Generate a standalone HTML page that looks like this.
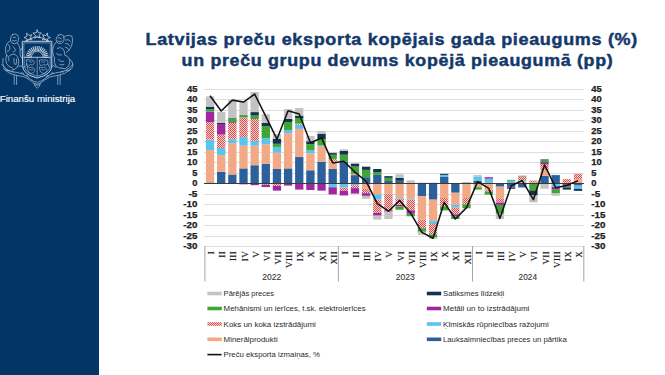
<!DOCTYPE html>
<html><head><meta charset="utf-8">
<style>
html,body{margin:0;padding:0;background:#fff;}
body{width:665px;height:375px;overflow:hidden;position:relative;font-family:"Liberation Sans",sans-serif;}
#side{position:absolute;left:0;top:0;width:99px;height:375px;background:#033566;}
#fm{position:absolute;left:0px;top:93px;color:#fff;font-size:9.2px;white-space:nowrap;letter-spacing:0.05px;}
.t{position:absolute;color:#0f3b6e;font-weight:bold;font-size:16px;white-space:nowrap;line-height:1;}
svg text{font-family:"Liberation Sans",sans-serif;}
.ax{font-size:8.4px;font-weight:bold;fill:#222;stroke:#222;stroke-width:0.25px;}
.mo{font-family:"Liberation Serif",serif !important;font-size:9px;fill:#1a1a1a;stroke:#1a1a1a;stroke-width:0.12px;letter-spacing:0.35px;}
.yr{font-size:8.8px;fill:#333;stroke:#333;stroke-width:0.1px;}
.lg{font-size:7.6px;fill:#2a2a2a;}
.tt{font-size:15.8px;font-weight:bold;fill:#14396b;stroke:#14396b;stroke-width:0.45px;letter-spacing:0.6px;}
.fm{font-size:9.6px;fill:#fff;stroke:#fff;stroke-width:0.15px;}
</style></head><body>
<div id="side">
<svg width="99" height="375" style="position:absolute;left:0;top:0"><g opacity="0.88"><g fill="none" stroke="#dfe7f1" stroke-width="0.8" stroke-linejoin="round" stroke-linecap="round">
<path d="M26.90,33.27 L28.95,35.48 L31.87,34.69 L30.40,37.33 L32.05,39.86 L29.08,39.28 L27.19,41.63 L26.82,38.63 L24.00,37.55 L26.74,36.28 Z"/>
<path d="M37.20,29.90 L38.38,32.78 L41.48,33.01 L39.10,35.02 L39.85,38.04 L37.20,36.40 L34.55,38.04 L35.30,35.02 L32.92,33.01 L36.02,32.78 Z"/>
<path d="M47.50,33.27 L47.66,36.28 L50.40,37.55 L47.58,38.63 L47.21,41.63 L45.32,39.28 L42.35,39.86 L44.00,37.33 L42.53,34.69 L45.45,35.48 Z"/>
<path d="M25.5,41 Q37.2,33 49,41"/>
<path d="M22.6,41.3 L51.8,41.3 L51.8,66 Q51.6,74.5 37.2,78 Q22.8,74.5 22.6,66 Z" stroke-width="1"/>
<path d="M24.2,42.9 L50.2,42.9 L50.2,65.8 Q50,73 37.2,76.3 Q24.4,73 24.2,65.8 Z" stroke-width="0.55"/>
<line x1="24.2" y1="57.3" x2="50.2" y2="57.3" stroke-width="0.9"/>
<path d="M31.3,57.3 A5.9,5.9 0 0 1 43.1,57.3" stroke-width="0.8"/>
<path d="M30.60,57.30 L25.80,57.30 M30.73,56.01 L26.02,55.08 M31.10,54.77 L26.67,52.94 M31.71,53.63 L27.72,50.97 M32.53,52.63 L29.14,49.24 M33.53,51.81 L30.87,47.82 M34.67,51.20 L32.84,46.77 M35.91,50.83 L34.98,46.12 M37.20,50.70 L37.20,45.90 M38.49,50.83 L39.42,46.12 M39.73,51.20 L41.56,46.77 M40.87,51.81 L43.53,47.82 M41.87,52.63 L45.26,49.24 M42.69,53.63 L46.68,50.97 M43.30,54.77 L47.73,52.94 M43.67,56.01 L48.38,55.08 M43.80,57.30 L48.60,57.30" stroke-width="1.05" stroke-linecap="butt"/>
</g>
<g fill="none" stroke="#dfe7f1" stroke-width="0.6" stroke-linejoin="round" stroke-linecap="round" opacity="0.9">
<path d="M26.5,60 Q28.5,58.8 30,60.2 Q31.8,59 33.5,60.5 Q35,62 34,64 Q32.5,65.5 30.5,64.5 Q28.5,66.5 27,65 Q25.8,62.5 26.5,60 Z"/>
<path d="M27.5,66.5 Q29.5,68.5 32,67 Q34.5,67.8 35,70.5 Q34,73.5 31,73.5 Q28.2,72.5 27.8,70 Z"/>
<path d="M29,61.5 Q31,63 32.5,61.8 M29.5,69.5 Q31.5,71 33,69.5 M26.8,63.8 L25.5,67"/>
<path d="M39.5,60.5 Q41.5,58.8 43.5,60.2 Q45.5,59 47.5,60.5 Q48.5,62.5 47.5,64.5 Q45.5,65.5 43.5,64.5 Q41.5,66.5 40,65 Q39,62.5 39.5,60.5 Z"/>
<path d="M39.5,67 Q42,68.5 44.5,67 Q47,67.8 47,70.5 Q46,73.5 43,73.5 Q40.2,72.5 39.8,70 Z"/>
<path d="M41.5,61.8 Q43.5,63 45,61.8 M41.5,69.5 Q43.5,71 45,69.5 M48,63.8 L49,67"/>
<line x1="37.2" y1="57.6" x2="37.2" y2="76"/>
</g>
<g transform="translate(0,34.5) scale(1,1.2) translate(0,-39)">
<g fill="none" stroke="#dfe7f1" stroke-width="0.7" stroke-linejoin="round" stroke-linecap="round" opacity="0.92">
<path d="M12.5,39 Q15.5,37.8 17.5,39.5 Q19.3,41.5 18.5,44 Q17.5,46.5 14.5,46.8 Q11.5,46.5 10.5,44 Q10,41 12.5,39 Z" vector-effect="non-scaling-stroke"/>
<path d="M13,41.5 Q14.5,40.5 16,41.8 M12.5,44 Q14.5,45 16.5,44" vector-effect="non-scaling-stroke"/>
<path d="M10.5,44 Q7,45.5 5.8,49 Q4.6,53 6.5,56 Q5,59.5 6.5,63 Q8.5,66.5 12.5,67" vector-effect="non-scaling-stroke"/>
<path d="M8.5,47.5 Q10.5,49 9.8,51.5 Q8.8,53.5 7.2,53 M7.5,56.5 Q9.5,58 9,61" vector-effect="non-scaling-stroke"/>
<path d="M17.5,46 Q19.5,48.5 20.2,51.5 Q22.2,52 22.8,49.5 M20.2,51.5 Q19.2,55.5 21,58 Q22.5,59.5 23,56.8" vector-effect="non-scaling-stroke"/>
<path d="M9,57 Q12,54.5 15,55.5 Q18,57 18.8,60.5 Q19.2,64 17,66.5 Q15,68.5 12,68.5" vector-effect="non-scaling-stroke"/>
<path d="M13,49 Q15,50 15.5,52.5 Q14.5,54 13,53.5 M14,59 Q13,61.5 14.8,64 M16.5,59.5 Q17,62 16,64" vector-effect="non-scaling-stroke"/>
<path d="M3,59 Q1.8,63.5 4.5,67 Q6.5,69.5 10,69.5" vector-effect="non-scaling-stroke"/>
<path d="M18.5,66 Q20.5,63.5 22.5,66.5" vector-effect="non-scaling-stroke"/>
<path d="M58.5,39.5 Q61.5,38 63.5,40 Q64.8,42.5 63.5,45 Q61.5,47 58.5,46.5 Q56,45.5 56,43 Q56.5,40.5 58.5,39.5 Z" vector-effect="non-scaling-stroke"/>
<path d="M58,42 Q60,41 61.5,42.5 M57.5,44.5 Q59.5,45.5 61.5,44.5" vector-effect="non-scaling-stroke"/>
<path d="M63.5,41.5 Q67.5,38.5 72,40.5 Q73.5,44.5 71.5,48.5 Q70,52.5 66.5,54" vector-effect="non-scaling-stroke"/>
<path d="M65.5,43.5 Q68.5,42.5 70.5,44.5 M65.5,46.5 Q68.5,46 69.5,48.5 M65.5,49.5 Q67.5,49.5 68.5,51.5" vector-effect="non-scaling-stroke"/>
<path d="M56,45.5 Q53,48 52.6,52 Q52.6,56 54.5,58.5 Q53.5,62.5 56,65.5 Q58.5,67.5 62,67" vector-effect="non-scaling-stroke"/>
<path d="M57.5,50.5 Q60.5,49 63,51 Q65,53 64.5,56 Q67.5,56.5 69.5,59.5 Q70.5,62.5 68.5,65.5 Q65.5,68.5 62,67.5" vector-effect="non-scaling-stroke"/>
<path d="M56.5,55 Q59,57 61.5,56 M58.5,60 Q60.5,62 63.5,61.5 M60,64 Q62,65 64,64" vector-effect="non-scaling-stroke"/>
<path d="M69.5,59.5 Q72.5,60.5 73,64.5 Q72.5,67.5 69,69.5" vector-effect="non-scaling-stroke"/>
<path d="M51.8,66 Q53.8,63.5 55.8,66.5" vector-effect="non-scaling-stroke"/>
</g></g>
<g fill="none" stroke="#dfe7f1" stroke-width="0.7" stroke-linejoin="round" stroke-linecap="round" opacity="0.92">
<path d="M1.8,64.5 Q7,71.5 15,72.2 Q23.5,73 29.5,78.5 Q33.5,82 37.2,82.3 Q40.9,82 44.9,78.5 Q50.9,73 59.4,72.2 Q67.4,71.5 72.6,64.5"/>
<path d="M3.5,69 Q9.5,75 17.5,75.5 Q25.5,76 30.5,80.5 Q34,84 37.2,84.3 Q40.4,84 43.9,80.5 Q48.9,76 56.9,75.5 Q64.9,75 70.9,69"/>
<path d="M6,70.5 Q7.5,68.8 9,70.8 M11,72 Q12.5,70.2 14,72.3 M21,73 Q22.8,71.8 24,74 M26,75.5 Q27.5,74.5 28.5,76.8 M46,76.8 Q47,74.5 48.5,75.5 M50.5,74 Q51.7,71.8 53.5,73 M60.5,72.3 Q62,70.2 63.5,72 M65.5,70.8 Q67,68.8 68.5,70.5"/>
<path d="M14.2,75.5 L14.2,84.5 M16.6,75.6 L16.6,84.5 M57.8,75.6 L57.8,84.5 M60.2,75.5 L60.2,84.5"/>
<path d="M34,83.5 Q34.5,86.5 37.2,88.3 Q39.9,86.5 40.4,83.5 M35.5,85 L39,85"/>
</g></g></svg>
<svg width="99" height="375" style="position:absolute;left:0;top:0"><text x="-0.3" y="102.2" textLength="75.5" lengthAdjust="spacingAndGlyphs" class="fm">Finanšu ministrija</text></svg>
</div>

<svg width="665" height="375" style="position:absolute;left:0;top:0">
<defs>
<pattern id="hatch" patternUnits="userSpaceOnUse" x="0" y="0" width="2" height="2">
<rect width="2" height="2" fill="#f5d3d0"/>
<rect x="0" y="0" width="1" height="1" fill="#db4d4a"/>
<rect x="1" y="1" width="1" height="1" fill="#db4d4a"/>
</pattern>
</defs>
<line x1="204" y1="89.50" x2="584" y2="89.50" stroke="#dedede" stroke-width="1"/>
<line x1="204" y1="99.50" x2="584" y2="99.50" stroke="#dedede" stroke-width="1"/>
<line x1="204" y1="110.50" x2="584" y2="110.50" stroke="#dedede" stroke-width="1"/>
<line x1="204" y1="120.50" x2="584" y2="120.50" stroke="#dedede" stroke-width="1"/>
<line x1="204" y1="131.50" x2="584" y2="131.50" stroke="#dedede" stroke-width="1"/>
<line x1="204" y1="141.50" x2="584" y2="141.50" stroke="#dedede" stroke-width="1"/>
<line x1="204" y1="152.50" x2="584" y2="152.50" stroke="#dedede" stroke-width="1"/>
<line x1="204" y1="162.50" x2="584" y2="162.50" stroke="#dedede" stroke-width="1"/>
<line x1="204" y1="173.50" x2="584" y2="173.50" stroke="#dedede" stroke-width="1"/>
<line x1="204" y1="194.50" x2="584" y2="194.50" stroke="#dedede" stroke-width="1"/>
<line x1="204" y1="204.50" x2="584" y2="204.50" stroke="#dedede" stroke-width="1"/>
<line x1="204" y1="215.50" x2="584" y2="215.50" stroke="#dedede" stroke-width="1"/>
<line x1="204" y1="225.50" x2="584" y2="225.50" stroke="#dedede" stroke-width="1"/>
<line x1="204" y1="236.50" x2="584" y2="236.50" stroke="#dedede" stroke-width="1"/>
<line x1="204" y1="246.50" x2="584" y2="246.50" stroke="#dedede" stroke-width="1"/>
<rect x="205.90" y="182.45" width="8.3" height="1.05" fill="#2c609c"/>
<rect x="205.90" y="150.11" width="8.3" height="32.34" fill="#f3a985"/>
<rect x="205.90" y="139.61" width="8.3" height="10.50" fill="#5cc3ec"/>
<rect x="205.90" y="122.18" width="8.3" height="17.43" fill="url(#hatch)"/>
<rect x="205.90" y="111.68" width="8.3" height="10.50" fill="#a0289f"/>
<rect x="205.90" y="109.37" width="8.3" height="2.31" fill="#3fa535"/>
<rect x="205.90" y="106.64" width="8.3" height="2.73" fill="#13334f"/>
<rect x="205.90" y="96.35" width="8.3" height="10.29" fill="#c3c3c3"/>
<rect x="217.05" y="171.74" width="8.3" height="11.76" fill="#2c609c"/>
<rect x="217.05" y="155.15" width="8.3" height="16.59" fill="#f3a985"/>
<rect x="217.05" y="148.01" width="8.3" height="7.14" fill="#5cc3ec"/>
<rect x="217.05" y="134.57" width="8.3" height="13.44" fill="url(#hatch)"/>
<rect x="217.05" y="124.07" width="8.3" height="10.50" fill="#a0289f"/>
<rect x="217.05" y="122.81" width="8.3" height="1.26" fill="#13334f"/>
<rect x="217.05" y="111.89" width="8.3" height="10.92" fill="#c3c3c3"/>
<rect x="228.20" y="174.47" width="8.3" height="9.03" fill="#2c609c"/>
<rect x="228.20" y="143.18" width="8.3" height="31.29" fill="#f3a985"/>
<rect x="228.20" y="139.19" width="8.3" height="3.99" fill="#5cc3ec"/>
<rect x="228.20" y="123.02" width="8.3" height="16.17" fill="url(#hatch)"/>
<rect x="228.20" y="122.18" width="8.3" height="0.84" fill="#a0289f"/>
<rect x="228.20" y="118.40" width="8.3" height="3.78" fill="#3fa535"/>
<rect x="228.20" y="117.98" width="8.3" height="0.42" fill="#13334f"/>
<rect x="228.20" y="99.92" width="8.3" height="18.06" fill="#c3c3c3"/>
<rect x="239.35" y="168.38" width="8.3" height="15.12" fill="#2c609c"/>
<rect x="239.35" y="145.70" width="8.3" height="22.68" fill="#f3a985"/>
<rect x="239.35" y="137.09" width="8.3" height="8.61" fill="#5cc3ec"/>
<rect x="239.35" y="117.35" width="8.3" height="19.74" fill="url(#hatch)"/>
<rect x="239.35" y="115.04" width="8.3" height="2.31" fill="#3fa535"/>
<rect x="239.35" y="101.18" width="8.3" height="13.86" fill="#c3c3c3"/>
<rect x="239.35" y="183.50" width="8.3" height="0.84" fill="#a0289f"/>
<rect x="250.50" y="165.23" width="8.3" height="18.27" fill="#2c609c"/>
<rect x="250.50" y="145.70" width="8.3" height="19.53" fill="#f3a985"/>
<rect x="250.50" y="140.87" width="8.3" height="4.83" fill="#5cc3ec"/>
<rect x="250.50" y="119.03" width="8.3" height="21.84" fill="url(#hatch)"/>
<rect x="250.50" y="115.46" width="8.3" height="3.57" fill="#3fa535"/>
<rect x="250.50" y="112.10" width="8.3" height="3.36" fill="#13334f"/>
<rect x="250.50" y="91.94" width="8.3" height="20.16" fill="#c3c3c3"/>
<rect x="250.50" y="183.50" width="8.3" height="1.68" fill="#a0289f"/>
<rect x="261.65" y="163.76" width="8.3" height="19.74" fill="#2c609c"/>
<rect x="261.65" y="144.23" width="8.3" height="19.53" fill="#f3a985"/>
<rect x="261.65" y="138.14" width="8.3" height="6.09" fill="#5cc3ec"/>
<rect x="261.65" y="126.17" width="8.3" height="11.97" fill="#3fa535"/>
<rect x="261.65" y="122.81" width="8.3" height="3.36" fill="#13334f"/>
<rect x="261.65" y="114.20" width="8.3" height="8.61" fill="#c3c3c3"/>
<rect x="261.65" y="183.50" width="8.3" height="1.26" fill="url(#hatch)"/>
<rect x="261.65" y="184.76" width="8.3" height="2.31" fill="#a0289f"/>
<rect x="272.80" y="169.01" width="8.3" height="14.49" fill="#2c609c"/>
<rect x="272.80" y="152.63" width="8.3" height="16.38" fill="#f3a985"/>
<rect x="272.80" y="146.96" width="8.3" height="5.67" fill="#5cc3ec"/>
<rect x="272.80" y="143.81" width="8.3" height="3.15" fill="#3fa535"/>
<rect x="272.80" y="138.77" width="8.3" height="5.04" fill="#13334f"/>
<rect x="272.80" y="134.15" width="8.3" height="4.62" fill="#c3c3c3"/>
<rect x="272.80" y="183.50" width="8.3" height="2.52" fill="url(#hatch)"/>
<rect x="272.80" y="186.02" width="8.3" height="4.62" fill="#a0289f"/>
<rect x="283.95" y="168.38" width="8.3" height="15.12" fill="#2c609c"/>
<rect x="283.95" y="133.10" width="8.3" height="35.28" fill="#f3a985"/>
<rect x="283.95" y="129.95" width="8.3" height="3.15" fill="#5cc3ec"/>
<rect x="283.95" y="121.97" width="8.3" height="7.98" fill="#3fa535"/>
<rect x="283.95" y="118.82" width="8.3" height="3.15" fill="#13334f"/>
<rect x="283.95" y="109.16" width="8.3" height="9.66" fill="#c3c3c3"/>
<rect x="283.95" y="183.50" width="8.3" height="2.10" fill="#a0289f"/>
<rect x="295.10" y="157.04" width="8.3" height="26.46" fill="#2c609c"/>
<rect x="295.10" y="128.90" width="8.3" height="28.14" fill="#f3a985"/>
<rect x="295.10" y="124.70" width="8.3" height="4.20" fill="#5cc3ec"/>
<rect x="295.10" y="123.65" width="8.3" height="1.05" fill="url(#hatch)"/>
<rect x="295.10" y="117.98" width="8.3" height="5.67" fill="#3fa535"/>
<rect x="295.10" y="115.67" width="8.3" height="2.31" fill="#13334f"/>
<rect x="295.10" y="108.01" width="8.3" height="7.66" fill="#c3c3c3"/>
<rect x="295.10" y="183.50" width="8.3" height="6.09" fill="#a0289f"/>
<rect x="306.25" y="170.27" width="8.3" height="13.23" fill="#2c609c"/>
<rect x="306.25" y="153.47" width="8.3" height="16.80" fill="#f3a985"/>
<rect x="306.25" y="150.32" width="8.3" height="3.15" fill="#5cc3ec"/>
<rect x="306.25" y="144.23" width="8.3" height="6.09" fill="#3fa535"/>
<rect x="306.25" y="141.29" width="8.3" height="2.94" fill="#13334f"/>
<rect x="306.25" y="136.04" width="8.3" height="5.25" fill="#c3c3c3"/>
<rect x="306.25" y="183.50" width="8.3" height="6.51" fill="#a0289f"/>
<rect x="317.40" y="161.66" width="8.3" height="21.84" fill="#2c609c"/>
<rect x="317.40" y="146.33" width="8.3" height="15.33" fill="#f3a985"/>
<rect x="317.40" y="145.49" width="8.3" height="0.84" fill="#5cc3ec"/>
<rect x="317.40" y="138.98" width="8.3" height="6.51" fill="#3fa535"/>
<rect x="317.40" y="133.73" width="8.3" height="5.25" fill="#13334f"/>
<rect x="317.40" y="131.21" width="8.3" height="2.52" fill="#c3c3c3"/>
<rect x="317.40" y="183.50" width="8.3" height="7.14" fill="#a0289f"/>
<rect x="328.55" y="168.80" width="8.3" height="14.70" fill="#2c609c"/>
<rect x="328.55" y="161.66" width="8.3" height="7.14" fill="#f3a985"/>
<rect x="328.55" y="158.93" width="8.3" height="2.73" fill="url(#hatch)"/>
<rect x="328.55" y="154.73" width="8.3" height="4.20" fill="#3fa535"/>
<rect x="328.55" y="153.05" width="8.3" height="1.68" fill="#13334f"/>
<rect x="328.55" y="152.21" width="8.3" height="0.84" fill="#c3c3c3"/>
<rect x="328.55" y="183.50" width="8.3" height="3.78" fill="#5cc3ec"/>
<rect x="328.55" y="187.28" width="8.3" height="7.14" fill="#a0289f"/>
<rect x="339.70" y="161.87" width="8.3" height="21.63" fill="#2c609c"/>
<rect x="339.70" y="154.73" width="8.3" height="7.14" fill="#3fa535"/>
<rect x="339.70" y="150.95" width="8.3" height="3.78" fill="#13334f"/>
<rect x="339.70" y="149.27" width="8.3" height="1.68" fill="#c3c3c3"/>
<rect x="339.70" y="183.50" width="8.3" height="3.99" fill="#5cc3ec"/>
<rect x="339.70" y="187.49" width="8.3" height="3.36" fill="url(#hatch)"/>
<rect x="339.70" y="190.85" width="8.3" height="4.62" fill="#a0289f"/>
<rect x="350.85" y="175.10" width="8.3" height="8.40" fill="#2c609c"/>
<rect x="350.85" y="173.84" width="8.3" height="1.26" fill="#f3a985"/>
<rect x="350.85" y="166.49" width="8.3" height="7.35" fill="#3fa535"/>
<rect x="350.85" y="163.55" width="8.3" height="2.94" fill="#13334f"/>
<rect x="350.85" y="162.92" width="8.3" height="0.63" fill="#c3c3c3"/>
<rect x="350.85" y="183.50" width="8.3" height="1.68" fill="#5cc3ec"/>
<rect x="350.85" y="185.18" width="8.3" height="2.94" fill="url(#hatch)"/>
<rect x="350.85" y="188.12" width="8.3" height="5.46" fill="#a0289f"/>
<rect x="362.00" y="177.20" width="8.3" height="6.30" fill="#2c609c"/>
<rect x="362.00" y="169.85" width="8.3" height="7.35" fill="#3fa535"/>
<rect x="362.00" y="166.70" width="8.3" height="3.15" fill="#13334f"/>
<rect x="362.00" y="183.50" width="8.3" height="5.25" fill="#f3a985"/>
<rect x="362.00" y="188.75" width="8.3" height="4.41" fill="url(#hatch)"/>
<rect x="362.00" y="193.16" width="8.3" height="2.73" fill="#a0289f"/>
<rect x="362.00" y="195.89" width="8.3" height="2.94" fill="#c3c3c3"/>
<rect x="373.15" y="174.89" width="8.3" height="8.61" fill="#2c609c"/>
<rect x="373.15" y="172.16" width="8.3" height="2.73" fill="#3fa535"/>
<rect x="373.15" y="169.01" width="8.3" height="3.15" fill="#13334f"/>
<rect x="373.15" y="183.50" width="8.3" height="10.71" fill="#f3a985"/>
<rect x="373.15" y="194.21" width="8.3" height="5.46" fill="#5cc3ec"/>
<rect x="373.15" y="199.67" width="8.3" height="13.23" fill="url(#hatch)"/>
<rect x="373.15" y="212.90" width="8.3" height="2.73" fill="#a0289f"/>
<rect x="373.15" y="215.63" width="8.3" height="3.99" fill="#c3c3c3"/>
<rect x="384.30" y="180.98" width="8.3" height="2.52" fill="#2c609c"/>
<rect x="384.30" y="177.83" width="8.3" height="3.15" fill="#3fa535"/>
<rect x="384.30" y="176.15" width="8.3" height="1.68" fill="#13334f"/>
<rect x="384.30" y="183.50" width="8.3" height="10.08" fill="#f3a985"/>
<rect x="384.30" y="193.58" width="8.3" height="16.80" fill="url(#hatch)"/>
<rect x="384.30" y="210.38" width="8.3" height="1.26" fill="#a0289f"/>
<rect x="384.30" y="211.64" width="8.3" height="7.35" fill="#c3c3c3"/>
<rect x="395.45" y="180.77" width="8.3" height="2.73" fill="#2c609c"/>
<rect x="395.45" y="177.83" width="8.3" height="2.94" fill="#13334f"/>
<rect x="395.45" y="174.26" width="8.3" height="3.57" fill="#c3c3c3"/>
<rect x="395.45" y="183.50" width="8.3" height="13.86" fill="#f3a985"/>
<rect x="395.45" y="197.36" width="8.3" height="1.26" fill="#5cc3ec"/>
<rect x="395.45" y="198.62" width="8.3" height="6.30" fill="url(#hatch)"/>
<rect x="395.45" y="204.92" width="8.3" height="1.68" fill="#a0289f"/>
<rect x="395.45" y="206.60" width="8.3" height="3.15" fill="#3fa535"/>
<rect x="406.60" y="183.08" width="8.3" height="0.42" fill="#13334f"/>
<rect x="406.60" y="180.35" width="8.3" height="2.73" fill="#c3c3c3"/>
<rect x="406.60" y="183.50" width="8.3" height="15.12" fill="#f3a985"/>
<rect x="406.60" y="198.62" width="8.3" height="1.05" fill="#5cc3ec"/>
<rect x="406.60" y="199.67" width="8.3" height="10.71" fill="url(#hatch)"/>
<rect x="406.60" y="210.38" width="8.3" height="3.36" fill="#a0289f"/>
<rect x="406.60" y="213.74" width="8.3" height="2.52" fill="#3fa535"/>
<rect x="417.75" y="182.66" width="8.3" height="0.84" fill="#5cc3ec"/>
<rect x="417.75" y="183.50" width="8.3" height="12.50" fill="#2c609c"/>
<rect x="417.75" y="196.00" width="8.3" height="23.62" fill="#f3a985"/>
<rect x="417.75" y="219.62" width="8.3" height="8.61" fill="url(#hatch)"/>
<rect x="417.75" y="228.23" width="8.3" height="3.57" fill="#3fa535"/>
<rect x="417.75" y="231.80" width="8.3" height="3.15" fill="#c3c3c3"/>
<rect x="428.90" y="182.87" width="8.3" height="0.63" fill="#13334f"/>
<rect x="428.90" y="183.50" width="8.3" height="16.17" fill="#2c609c"/>
<rect x="428.90" y="199.67" width="8.3" height="21.42" fill="#f3a985"/>
<rect x="428.90" y="221.09" width="8.3" height="2.94" fill="#5cc3ec"/>
<rect x="428.90" y="224.03" width="8.3" height="10.29" fill="url(#hatch)"/>
<rect x="428.90" y="234.32" width="8.3" height="3.15" fill="#3fa535"/>
<rect x="428.90" y="237.47" width="8.3" height="1.47" fill="#c3c3c3"/>
<rect x="440.05" y="176.99" width="8.3" height="6.51" fill="#2c609c"/>
<rect x="440.05" y="174.89" width="8.3" height="2.10" fill="#5cc3ec"/>
<rect x="440.05" y="173.84" width="8.3" height="1.05" fill="#13334f"/>
<rect x="440.05" y="183.50" width="8.3" height="14.49" fill="#f3a985"/>
<rect x="440.05" y="197.99" width="8.3" height="8.40" fill="url(#hatch)"/>
<rect x="440.05" y="206.39" width="8.3" height="3.99" fill="#3fa535"/>
<rect x="451.20" y="183.50" width="8.3" height="9.24" fill="#2c609c"/>
<rect x="451.20" y="192.74" width="8.3" height="12.18" fill="#f3a985"/>
<rect x="451.20" y="204.92" width="8.3" height="2.73" fill="#5cc3ec"/>
<rect x="451.20" y="207.65" width="8.3" height="6.72" fill="url(#hatch)"/>
<rect x="451.20" y="214.37" width="8.3" height="1.89" fill="#a0289f"/>
<rect x="451.20" y="216.26" width="8.3" height="2.73" fill="#3fa535"/>
<rect x="462.35" y="182.66" width="8.3" height="0.84" fill="#13334f"/>
<rect x="462.35" y="183.50" width="8.3" height="14.49" fill="#f3a985"/>
<rect x="462.35" y="197.99" width="8.3" height="6.30" fill="url(#hatch)"/>
<rect x="462.35" y="204.29" width="8.3" height="3.99" fill="#3fa535"/>
<rect x="473.50" y="180.77" width="8.3" height="2.73" fill="#2c609c"/>
<rect x="473.50" y="176.36" width="8.3" height="4.41" fill="#5cc3ec"/>
<rect x="473.50" y="175.10" width="8.3" height="1.26" fill="#c3c3c3"/>
<rect x="473.50" y="183.50" width="8.3" height="3.78" fill="#f3a985"/>
<rect x="473.50" y="187.28" width="8.3" height="2.31" fill="#3fa535"/>
<rect x="484.65" y="182.66" width="8.3" height="0.84" fill="#2c609c"/>
<rect x="484.65" y="178.67" width="8.3" height="3.99" fill="#5cc3ec"/>
<rect x="484.65" y="177.20" width="8.3" height="1.47" fill="#a0289f"/>
<rect x="484.65" y="183.50" width="8.3" height="6.09" fill="#f3a985"/>
<rect x="484.65" y="189.59" width="8.3" height="1.89" fill="url(#hatch)"/>
<rect x="484.65" y="191.48" width="8.3" height="3.15" fill="#3fa535"/>
<rect x="495.80" y="183.50" width="8.3" height="3.15" fill="#2c609c"/>
<rect x="495.80" y="186.65" width="8.3" height="11.55" fill="#f3a985"/>
<rect x="495.80" y="198.20" width="8.3" height="4.41" fill="url(#hatch)"/>
<rect x="495.80" y="202.61" width="8.3" height="2.31" fill="#a0289f"/>
<rect x="495.80" y="204.92" width="8.3" height="8.82" fill="#3fa535"/>
<rect x="495.80" y="213.74" width="8.3" height="5.25" fill="#c3c3c3"/>
<rect x="506.95" y="180.77" width="8.3" height="2.73" fill="#5cc3ec"/>
<rect x="506.95" y="179.82" width="8.3" height="0.95" fill="#3fa535"/>
<rect x="506.95" y="183.50" width="8.3" height="3.36" fill="#2c609c"/>
<rect x="506.95" y="186.86" width="8.3" height="0.84" fill="#a0289f"/>
<rect x="506.95" y="187.70" width="8.3" height="1.05" fill="#13334f"/>
<rect x="518.10" y="181.61" width="8.3" height="1.89" fill="#f3a985"/>
<rect x="518.10" y="180.35" width="8.3" height="1.26" fill="#5cc3ec"/>
<rect x="518.10" y="176.36" width="8.3" height="3.99" fill="url(#hatch)"/>
<rect x="518.10" y="175.73" width="8.3" height="0.63" fill="#3fa535"/>
<rect x="518.10" y="183.50" width="8.3" height="3.99" fill="#2c609c"/>
<rect x="529.25" y="182.66" width="8.3" height="0.84" fill="#f3a985"/>
<rect x="529.25" y="180.56" width="8.3" height="2.10" fill="url(#hatch)"/>
<rect x="529.25" y="183.50" width="8.3" height="6.93" fill="#3fa535"/>
<rect x="529.25" y="190.43" width="8.3" height="5.04" fill="#13334f"/>
<rect x="529.25" y="195.47" width="8.3" height="6.93" fill="#c3c3c3"/>
<rect x="540.40" y="175.94" width="8.3" height="7.56" fill="#2c609c"/>
<rect x="540.40" y="170.06" width="8.3" height="5.88" fill="#f3a985"/>
<rect x="540.40" y="164.39" width="8.3" height="5.67" fill="url(#hatch)"/>
<rect x="540.40" y="162.08" width="8.3" height="2.31" fill="#a0289f"/>
<rect x="540.40" y="159.14" width="8.3" height="2.94" fill="#3fa535"/>
<rect x="540.40" y="183.50" width="8.3" height="5.25" fill="#c3c3c3"/>
<rect x="551.55" y="175.10" width="8.3" height="8.40" fill="#2c609c"/>
<rect x="551.55" y="183.50" width="8.3" height="3.36" fill="#5cc3ec"/>
<rect x="551.55" y="186.86" width="8.3" height="2.83" fill="#a0289f"/>
<rect x="551.55" y="189.69" width="8.3" height="3.78" fill="#3fa535"/>
<rect x="551.55" y="193.47" width="8.3" height="2.31" fill="#c3c3c3"/>
<rect x="562.70" y="182.87" width="8.3" height="0.63" fill="#f3a985"/>
<rect x="562.70" y="179.09" width="8.3" height="3.78" fill="url(#hatch)"/>
<rect x="562.70" y="183.50" width="8.3" height="2.52" fill="#a0289f"/>
<rect x="562.70" y="186.02" width="8.3" height="1.47" fill="#3fa535"/>
<rect x="562.70" y="187.49" width="8.3" height="2.10" fill="#13334f"/>
<rect x="573.85" y="179.09" width="8.3" height="4.41" fill="#f3a985"/>
<rect x="573.85" y="173.84" width="8.3" height="5.25" fill="url(#hatch)"/>
<rect x="573.85" y="183.50" width="8.3" height="2.10" fill="#2c609c"/>
<rect x="573.85" y="185.60" width="8.3" height="3.36" fill="#5cc3ec"/>
<rect x="573.85" y="188.96" width="8.3" height="1.89" fill="#13334f"/>
<line x1="204" y1="183.5" x2="584" y2="183.5" stroke="#3a3a3a" stroke-width="1"/>
<polyline points="210.05,95.72 221.20,111.05 232.35,100.13 243.50,102.02 254.65,94.04 265.80,116.30 276.95,139.19 288.10,110.84 299.25,113.99 310.40,142.76 321.55,137.93 332.70,162.92 343.85,161.24 355.00,172.16 366.15,181.40 377.30,203.66 388.45,211.22 399.60,200.51 410.75,213.32 421.90,232.43 433.05,238.31 444.20,202.40 455.35,218.99 466.50,207.65 477.65,181.61 488.80,188.33 499.95,218.36 511.10,185.81 522.25,180.56 533.40,199.67 544.55,165.02 555.70,187.70 566.85,185.39 578.00,180.77" fill="none" stroke="#141414" stroke-width="1.55" stroke-linejoin="round"/>
<text x="186.96" y="91.90" textLength="10.44" lengthAdjust="spacingAndGlyphs" class="ax">45</text>
<text x="591.3" y="91.90" textLength="10.44" lengthAdjust="spacingAndGlyphs" class="ax">45</text>
<text x="186.96" y="102.40" textLength="10.44" lengthAdjust="spacingAndGlyphs" class="ax">40</text>
<text x="591.3" y="102.40" textLength="10.44" lengthAdjust="spacingAndGlyphs" class="ax">40</text>
<text x="186.96" y="112.90" textLength="10.44" lengthAdjust="spacingAndGlyphs" class="ax">35</text>
<text x="591.3" y="112.90" textLength="10.44" lengthAdjust="spacingAndGlyphs" class="ax">35</text>
<text x="186.96" y="123.40" textLength="10.44" lengthAdjust="spacingAndGlyphs" class="ax">30</text>
<text x="591.3" y="123.40" textLength="10.44" lengthAdjust="spacingAndGlyphs" class="ax">30</text>
<text x="186.96" y="133.90" textLength="10.44" lengthAdjust="spacingAndGlyphs" class="ax">25</text>
<text x="591.3" y="133.90" textLength="10.44" lengthAdjust="spacingAndGlyphs" class="ax">25</text>
<text x="186.96" y="144.40" textLength="10.44" lengthAdjust="spacingAndGlyphs" class="ax">20</text>
<text x="591.3" y="144.40" textLength="10.44" lengthAdjust="spacingAndGlyphs" class="ax">20</text>
<text x="186.96" y="154.90" textLength="10.44" lengthAdjust="spacingAndGlyphs" class="ax">15</text>
<text x="591.3" y="154.90" textLength="10.44" lengthAdjust="spacingAndGlyphs" class="ax">15</text>
<text x="186.96" y="165.40" textLength="10.44" lengthAdjust="spacingAndGlyphs" class="ax">10</text>
<text x="591.3" y="165.40" textLength="10.44" lengthAdjust="spacingAndGlyphs" class="ax">10</text>
<text x="192.18" y="175.90" textLength="5.22" lengthAdjust="spacingAndGlyphs" class="ax">5</text>
<text x="591.3" y="175.90" textLength="5.22" lengthAdjust="spacingAndGlyphs" class="ax">5</text>
<text x="192.18" y="186.40" textLength="5.22" lengthAdjust="spacingAndGlyphs" class="ax">0</text>
<text x="591.3" y="186.40" textLength="5.22" lengthAdjust="spacingAndGlyphs" class="ax">0</text>
<text x="188.48" y="196.90" textLength="8.92" lengthAdjust="spacingAndGlyphs" class="ax">-5</text>
<text x="591.3" y="196.90" textLength="8.92" lengthAdjust="spacingAndGlyphs" class="ax">-5</text>
<text x="183.26" y="207.40" textLength="14.14" lengthAdjust="spacingAndGlyphs" class="ax">-10</text>
<text x="591.3" y="207.40" textLength="14.14" lengthAdjust="spacingAndGlyphs" class="ax">-10</text>
<text x="183.26" y="217.90" textLength="14.14" lengthAdjust="spacingAndGlyphs" class="ax">-15</text>
<text x="591.3" y="217.90" textLength="14.14" lengthAdjust="spacingAndGlyphs" class="ax">-15</text>
<text x="183.26" y="228.40" textLength="14.14" lengthAdjust="spacingAndGlyphs" class="ax">-20</text>
<text x="591.3" y="228.40" textLength="14.14" lengthAdjust="spacingAndGlyphs" class="ax">-20</text>
<text x="183.26" y="238.90" textLength="14.14" lengthAdjust="spacingAndGlyphs" class="ax">-25</text>
<text x="591.3" y="238.90" textLength="14.14" lengthAdjust="spacingAndGlyphs" class="ax">-25</text>
<text x="183.26" y="249.40" textLength="14.14" lengthAdjust="spacingAndGlyphs" class="ax">-30</text>
<text x="591.3" y="249.40" textLength="14.14" lengthAdjust="spacingAndGlyphs" class="ax">-30</text>
<line x1="204.9" y1="246" x2="204.9" y2="281.5" stroke="#a6a6a6" stroke-width="1"/>
<line x1="338.4" y1="246" x2="338.4" y2="281.5" stroke="#a6a6a6" stroke-width="1"/>
<line x1="472.5" y1="246" x2="472.5" y2="281.5" stroke="#a6a6a6" stroke-width="1"/>
<line x1="583.8" y1="246" x2="583.8" y2="281.5" stroke="#a6a6a6" stroke-width="1"/>
<text transform="translate(214.05,251.0) rotate(-90)" text-anchor="end" class="mo">I</text>
<text transform="translate(225.20,251.0) rotate(-90)" text-anchor="end" class="mo">II</text>
<text transform="translate(236.35,251.0) rotate(-90)" text-anchor="end" class="mo">III</text>
<text transform="translate(247.50,251.0) rotate(-90)" text-anchor="end" class="mo">IV</text>
<text transform="translate(258.65,251.0) rotate(-90)" text-anchor="end" class="mo">V</text>
<text transform="translate(269.80,251.0) rotate(-90)" text-anchor="end" class="mo">VI</text>
<text transform="translate(280.95,251.0) rotate(-90)" text-anchor="end" class="mo">VII</text>
<text transform="translate(292.10,251.0) rotate(-90)" text-anchor="end" class="mo">VIII</text>
<text transform="translate(303.25,251.0) rotate(-90)" text-anchor="end" class="mo">IX</text>
<text transform="translate(314.40,251.0) rotate(-90)" text-anchor="end" class="mo">X</text>
<text transform="translate(325.55,251.0) rotate(-90)" text-anchor="end" class="mo">XI</text>
<text transform="translate(336.70,251.0) rotate(-90)" text-anchor="end" class="mo">XII</text>
<text transform="translate(347.85,251.0) rotate(-90)" text-anchor="end" class="mo">I</text>
<text transform="translate(359.00,251.0) rotate(-90)" text-anchor="end" class="mo">II</text>
<text transform="translate(370.15,251.0) rotate(-90)" text-anchor="end" class="mo">III</text>
<text transform="translate(381.30,251.0) rotate(-90)" text-anchor="end" class="mo">IV</text>
<text transform="translate(392.45,251.0) rotate(-90)" text-anchor="end" class="mo">V</text>
<text transform="translate(403.60,251.0) rotate(-90)" text-anchor="end" class="mo">VI</text>
<text transform="translate(414.75,251.0) rotate(-90)" text-anchor="end" class="mo">VII</text>
<text transform="translate(425.90,251.0) rotate(-90)" text-anchor="end" class="mo">VIII</text>
<text transform="translate(437.05,251.0) rotate(-90)" text-anchor="end" class="mo">IX</text>
<text transform="translate(448.20,251.0) rotate(-90)" text-anchor="end" class="mo">X</text>
<text transform="translate(459.35,251.0) rotate(-90)" text-anchor="end" class="mo">XI</text>
<text transform="translate(470.50,251.0) rotate(-90)" text-anchor="end" class="mo">XII</text>
<text transform="translate(481.65,251.0) rotate(-90)" text-anchor="end" class="mo">I</text>
<text transform="translate(492.80,251.0) rotate(-90)" text-anchor="end" class="mo">II</text>
<text transform="translate(503.95,251.0) rotate(-90)" text-anchor="end" class="mo">III</text>
<text transform="translate(515.10,251.0) rotate(-90)" text-anchor="end" class="mo">IV</text>
<text transform="translate(526.25,251.0) rotate(-90)" text-anchor="end" class="mo">V</text>
<text transform="translate(537.40,251.0) rotate(-90)" text-anchor="end" class="mo">VI</text>
<text transform="translate(548.55,251.0) rotate(-90)" text-anchor="end" class="mo">VII</text>
<text transform="translate(559.70,251.0) rotate(-90)" text-anchor="end" class="mo">VIII</text>
<text transform="translate(570.85,251.0) rotate(-90)" text-anchor="end" class="mo">IX</text>
<text transform="translate(582.00,251.0) rotate(-90)" text-anchor="end" class="mo">X</text>
<text x="262.3" y="280.3" textLength="19.00" lengthAdjust="spacingAndGlyphs" class="yr">2022</text>
<text x="395.7" y="280.3" textLength="19.00" lengthAdjust="spacingAndGlyphs" class="yr">2023</text>
<text x="518.6" y="280.3" textLength="18.40" lengthAdjust="spacingAndGlyphs" class="yr">2024</text>
<rect x="207.4" y="291.70" width="14.4" height="3.6" fill="#c3c3c3"/>
<text x="223.60" y="296.10" textLength="50.50" lengthAdjust="spacingAndGlyphs" class="lg">Pārējās preces</text>
<rect x="207.4" y="306.70" width="14.4" height="3.6" fill="#3fa535"/>
<text x="223.60" y="311.10" textLength="142.00" lengthAdjust="spacingAndGlyphs" class="lg">Mehānismi un ierīces, t.sk. elektroierīces</text>
<rect x="207.4" y="322.20" width="14.4" height="3.6" fill="url(#hatch)"/>
<text x="223.60" y="326.60" textLength="92.20" lengthAdjust="spacingAndGlyphs" class="lg">Koks un koka izstrādājumi</text>
<rect x="207.4" y="337.50" width="14.4" height="3.6" fill="#f3a985"/>
<text x="223.60" y="341.90" textLength="54.10" lengthAdjust="spacingAndGlyphs" class="lg">Minerālprodukti</text>
<line x1="207.4" y1="354.6" x2="221.6" y2="354.6" stroke="#111" stroke-width="1.6"/>
<text x="223.60" y="357.20" textLength="96.30" lengthAdjust="spacingAndGlyphs" class="lg">Preču eksporta izmaiņas, %</text>
<rect x="426.8" y="291.70" width="14.4" height="3.6" fill="#13334f"/>
<text x="443.00" y="296.10" textLength="61.20" lengthAdjust="spacingAndGlyphs" class="lg">Satiksmes līdzekļi</text>
<rect x="426.8" y="306.70" width="14.4" height="3.6" fill="#a0289f"/>
<text x="443.00" y="311.10" textLength="86.40" lengthAdjust="spacingAndGlyphs" class="lg">Metāli un to izstrādājumi</text>
<rect x="426.8" y="322.20" width="14.4" height="3.6" fill="#5cc3ec"/>
<text x="443.00" y="326.60" textLength="105.70" lengthAdjust="spacingAndGlyphs" class="lg">Ķīmiskās rūpniecības ražojumi</text>
<rect x="426.8" y="337.50" width="14.4" height="3.6" fill="#2c609c"/>
<text x="443.00" y="341.90" textLength="123.70" lengthAdjust="spacingAndGlyphs" class="lg">Lauksaimniecības preces un pārtika</text>
<text x="145.5" y="45" textLength="492.4" lengthAdjust="spacingAndGlyphs" class="tt">Latvijas preču eksporta kopējais gada pieaugums (%)</text>
<text x="181.6" y="65.6" textLength="431.8" lengthAdjust="spacingAndGlyphs" class="tt">un preču grupu devums kopējā pieaugumā (pp)</text>
</svg>
</body></html>
